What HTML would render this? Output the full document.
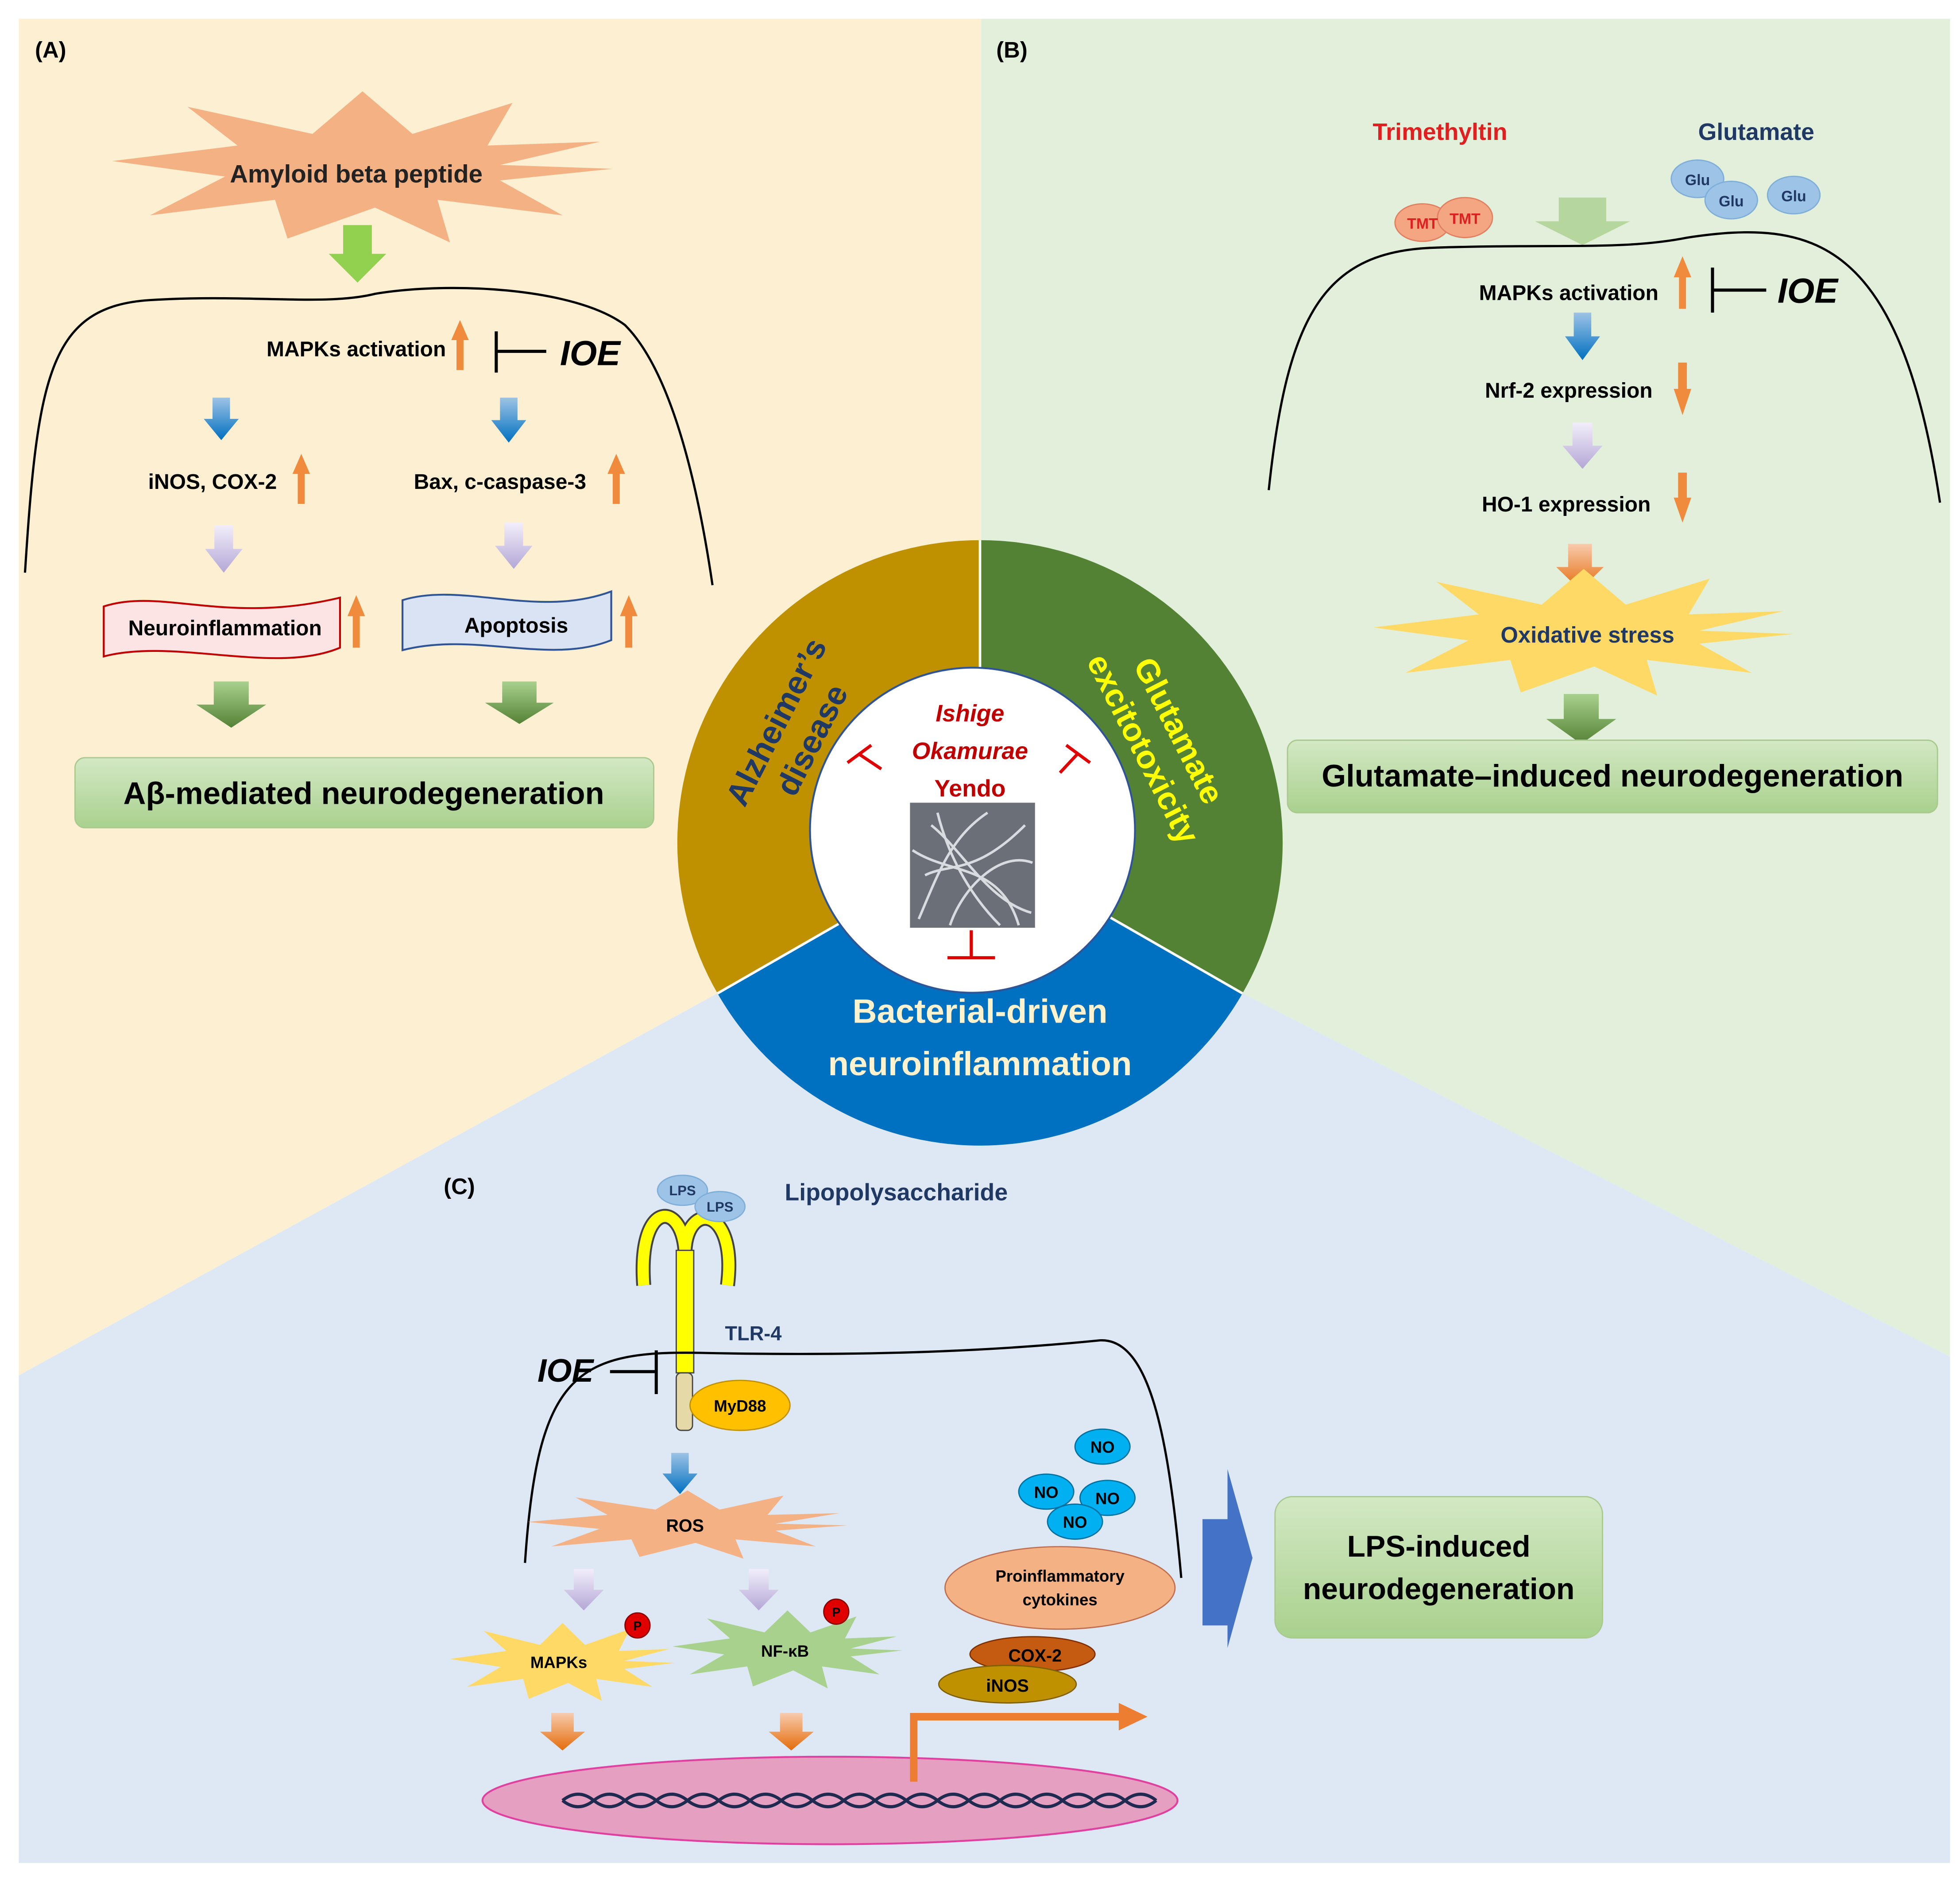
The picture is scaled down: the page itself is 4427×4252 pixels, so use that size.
<!DOCTYPE html>
<html><head><meta charset="utf-8"><style>
html,body{margin:0;padding:0;background:#fff}
svg{display:block}
text{font-family:"Liberation Sans",sans-serif;font-weight:bold}
</style></head><body>
<svg width="4427" height="4252" viewBox="0 0 1568 1506" xmlns="http://www.w3.org/2000/svg">
<defs>
<path id="da" d="M0.25,0 H0.75 V0.5 H1 L0.5,1 L0,0.5 H0.25 Z"/>
<path id="ua" d="M0.3,1 V0.4 H0 L0.5,0 L1,0.4 H0.7 V1 Z"/>
<path id="st" d="M1,0 L0.55,0.15 L0.8,0.6 L0.3,0.4 L0.35,0.95 L0.05,0.5 L-0.3,0.9 L-0.35,0.4 L-0.85,0.6 L-0.55,0.1 L-1,-0.1 L-0.5,-0.3 L-0.7,-0.8 L-0.2,-0.45 L0,-1 L0.2,-0.45 L0.6,-0.85 L0.5,-0.3 L0.95,-0.35 L0.55,-0.05 Z"/>
<linearGradient id="gb" x1="0" y1="0" x2="0" y2="1"><stop offset="0" stop-color="#d3e8c4"/><stop offset="1" stop-color="#a9d18e"/></linearGradient>
<linearGradient id="ga" x1="0" y1="0" x2="0" y2="1"><stop offset="0" stop-color="#a9d18e"/><stop offset="1" stop-color="#548235"/></linearGradient>
<linearGradient id="go" x1="0" y1="0" x2="0" y2="1"><stop offset="0" stop-color="#f8cbad"/><stop offset="1" stop-color="#e46c0a"/></linearGradient>
<linearGradient id="gbl" x1="0" y1="0" x2="0" y2="1"><stop offset="0" stop-color="#9dc3e6"/><stop offset="1" stop-color="#0070c0"/></linearGradient>
<linearGradient id="gl" x1="0" y1="0" x2="0" y2="1"><stop offset="0" stop-color="#f2eefa"/><stop offset="1" stop-color="#b4a7d6"/></linearGradient>
</defs>
<!-- backgrounds -->
<polygon points="15,15 785,15 785,675 573,795 15,1100" fill="#fdf0d2"/>
<polygon points="785,15 1560,15 1560,1085 995,795 785,675" fill="#e2efda"/>
<polygon points="15,1100 573,795 785,675 995,795 1560,1085 1560,1490 15,1490" fill="#dde8f4"/>

<!-- PANEL A -->
<text x="28" y="46" font-size="18">(A)</text>
<use href="#st" transform="translate(290,135) scale(200,62)" fill="#f4b183"/>
<text x="285" y="146" font-size="20" text-anchor="middle" fill="#222">Amyloid beta peptide</text>
<use href="#da" transform="translate(263,180) scale(46,46)" fill="#92d050"/>
<path d="M20,458 C30,300 40,245 120,240 C200,235 260,245 300,235 C360,225 460,230 500,260 C540,300 560,400 570,468" fill="none" stroke="#000" stroke-width="1.8"/>
<text x="285" y="285" font-size="17" text-anchor="middle">MAPKs activation</text>
<use href="#ua" transform="translate(361,256) scale(14,40)" fill="#f08a3c"/>
<path d="M397,265 V298 M397,281 H437" stroke="#000" stroke-width="2.5" fill="none"/>
<text x="448" y="292" font-size="28" font-style="italic">IOE</text>
<use href="#da" transform="translate(163,318) scale(28,34)" fill="url(#gbl)"/>
<use href="#da" transform="translate(393,318) scale(28,36)" fill="url(#gbl)"/>
<text x="170" y="391" font-size="17" text-anchor="middle">iNOS, COX-2</text>
<use href="#ua" transform="translate(234,363) scale(14,40)" fill="#f08a3c"/>
<text x="400" y="391" font-size="17" text-anchor="middle">Bax, c-caspase-3</text>
<use href="#ua" transform="translate(486,363) scale(14,40)" fill="#f08a3c"/>
<use href="#da" transform="translate(164,420) scale(30,38)" fill="url(#gl)"/>
<use href="#da" transform="translate(396,418) scale(30,37)" fill="url(#gl)"/>
<path d="M83,485 C130,470 180,500 272,478 V518 C220,540 140,510 83,525 Z" fill="#fde4e4" stroke="#c00000" stroke-width="1.5"/>
<text x="180" y="508" font-size="17" text-anchor="middle">Neuroinflammation</text>
<use href="#ua" transform="translate(278,476) scale(14,42)" fill="#f08a3c"/>
<path d="M322,480 C370,465 430,495 489,473 V512 C440,532 380,505 322,520 Z" fill="#dae3f3" stroke="#2f5597" stroke-width="1.5"/>
<text x="413" y="506" font-size="17" text-anchor="middle">Apoptosis</text>
<use href="#ua" transform="translate(496,476) scale(14,42)" fill="#f08a3c"/>
<use href="#da" transform="translate(157,545) scale(56,37)" fill="url(#ga)"/>
<use href="#da" transform="translate(388,545) scale(55,34)" fill="url(#ga)"/>
<rect x="60" y="606" width="463" height="56" rx="8" fill="url(#gb)" stroke="#a9c98e"/>
<text x="291" y="643" font-size="25" text-anchor="middle">Aβ-mediated neurodegeneration</text>

<!-- PANEL B -->
<text x="797" y="46" font-size="18">(B)</text>
<text x="1152" y="112" font-size="19" text-anchor="middle" fill="#e02020">Trimethyltin</text>
<text x="1405" y="112" font-size="19" text-anchor="middle" fill="#1f3864">Glutamate</text>
<ellipse cx="1138" cy="178" rx="22" ry="15" fill="#f4a582" stroke="#e08060"/>
<ellipse cx="1172" cy="174" rx="22" ry="16" fill="#f4a582" stroke="#e08060"/>
<text x="1138" y="183" font-size="12" font-weight="normal" text-anchor="middle" fill="#e02020">TMT</text>
<text x="1172" y="179" font-size="12" font-weight="normal" text-anchor="middle" fill="#e02020">TMT</text>
<ellipse cx="1358" cy="143" rx="21" ry="15" fill="#9dc3e6" stroke="#7faed9"/>
<ellipse cx="1385" cy="160" rx="21" ry="15" fill="#9dc3e6" stroke="#7faed9"/>
<ellipse cx="1435" cy="156" rx="21" ry="15" fill="#9dc3e6" stroke="#7faed9"/>
<text x="1358" y="148" font-size="12" font-weight="normal" text-anchor="middle" fill="#1f3864">Glu</text>
<text x="1385" y="165" font-size="12" font-weight="normal" text-anchor="middle" fill="#1f3864">Glu</text>
<text x="1435" y="161" font-size="12" font-weight="normal" text-anchor="middle" fill="#1f3864">Glu</text>
<use href="#da" transform="translate(1228,158) scale(76,38)" fill="#b5d69c"/>
<path d="M1015,392 C1030,250 1060,200 1150,198 C1250,195 1300,200 1350,190 C1450,175 1520,190 1552,402" fill="none" stroke="#000" stroke-width="1.8"/>
<text x="1255" y="240" font-size="17" text-anchor="middle">MAPKs activation</text>
<use href="#ua" transform="translate(1339,205) scale(14,42)" fill="#f08a3c"/>
<path d="M1370,214 V250 M1370,232 H1413" stroke="#000" stroke-width="2.5" fill="none"/>
<text x="1422" y="242" font-size="28" font-style="italic">IOE</text>
<use href="#da" transform="translate(1252,250) scale(28,38)" fill="url(#gbl)"/>
<text x="1255" y="318" font-size="17" text-anchor="middle">Nrf-2 expression</text>
<use href="#da" transform="translate(1339,290) scale(14,42)" fill="#f08a3c"/>
<use href="#da" transform="translate(1250,338) scale(32,37)" fill="url(#gl)"/>
<text x="1253" y="409" font-size="17" text-anchor="middle">HO-1 expression</text>
<use href="#da" transform="translate(1339,378) scale(14,40)" fill="#f08a3c"/>
<use href="#da" transform="translate(1245,435) scale(38,37)" fill="url(#go)"/>
<use href="#st" transform="translate(1267,507) scale(168,52)" fill="#ffd966"/>
<text x="1270" y="514" font-size="18" text-anchor="middle" fill="#1f3864">Oxidative stress</text>
<use href="#da" transform="translate(1237,555) scale(56,40)" fill="url(#ga)"/>
<rect x="1030" y="592" width="520" height="58" rx="8" fill="url(#gb)" stroke="#a9c98e"/>
<text x="1290" y="629" font-size="25" text-anchor="middle">Glutamate–induced neurodegeneration</text>

<!-- PANEL C -->
<text x="355" y="955" font-size="18">(C)</text>
<path d="M515,1028 C510,960 545,960 548,1000 C550,960 590,965 582,1028" fill="none" stroke="#444" stroke-width="12"/>
<path d="M515,1028 C510,960 545,960 548,1000 C550,960 590,965 582,1028" fill="none" stroke="#ffff00" stroke-width="9"/>
<rect x="541" y="1000" width="14" height="98" fill="#ffff00" stroke="#444"/>
<rect x="541" y="1098" width="13" height="46" rx="4" fill="#e6d9a8" stroke="#444"/>
<ellipse cx="546" cy="952" rx="20" ry="12" fill="#9dc3e6" stroke="#7faed9"/>
<ellipse cx="576" cy="965" rx="20" ry="12" fill="#9dc3e6" stroke="#7faed9"/>
<text x="546" y="956" font-size="11" font-weight="normal" text-anchor="middle" fill="#1f3864">LPS</text>
<text x="576" y="969" font-size="11" font-weight="normal" text-anchor="middle" fill="#1f3864">LPS</text>
<text x="717" y="960" font-size="19" text-anchor="middle" fill="#1f3864">Lipopolysaccharide</text>
<text x="580" y="1072" font-size="16" fill="#1f3864">TLR-4</text>
<path d="M420,1250 C430,1100 460,1080 560,1082 C700,1085 800,1080 880,1072 C920,1070 935,1150 945,1262" fill="none" stroke="#000" stroke-width="1.8"/>
<text x="430" y="1105" font-size="26" font-style="italic">IOE</text>
<path d="M488,1097 H525 M525,1080 V1115" stroke="#000" stroke-width="2.5" fill="none"/>
<ellipse cx="592" cy="1124" rx="40" ry="20" fill="#ffc000" stroke="#c09000"/>
<text x="592" y="1129" font-size="13" text-anchor="middle">MyD88</text>
<use href="#da" transform="translate(530,1162) scale(28,33)" fill="url(#gbl)"/>
<use href="#st" transform="translate(550,1220) scale(128,28)" fill="#f4b183"/>
<text x="548" y="1225" font-size="14" text-anchor="middle">ROS</text>
<use href="#da" transform="translate(451,1255) scale(32,33)" fill="url(#gl)"/>
<use href="#da" transform="translate(591,1255) scale(32,33)" fill="url(#gl)"/>
<use href="#st" transform="translate(450,1330) scale(90,32)" fill="#ffd966"/>
<text x="447" y="1334" font-size="13" text-anchor="middle">MAPKs</text>
<circle cx="510" cy="1300" r="10" fill="#e00000" stroke="#800"/>
<text x="510" y="1304" font-size="10" text-anchor="middle">P</text>
<use href="#st" transform="translate(630,1320) scale(92,32)" fill="#a9d18e"/>
<text x="628" y="1325" font-size="13" text-anchor="middle">NF-κB</text>
<circle cx="669" cy="1289" r="10" fill="#e00000" stroke="#800"/>
<text x="669" y="1293" font-size="10" text-anchor="middle">P</text>
<use href="#da" transform="translate(432,1370) scale(36,30)" fill="url(#go)"/>
<use href="#da" transform="translate(615,1370) scale(36,30)" fill="url(#go)"/>
<ellipse cx="664" cy="1440" rx="278" ry="35" fill="#e59fc0" stroke="#e040a0" stroke-width="1.5"/>
<path d="M450,1440 q12.5,-10 25,0 t25,0 t25,0 t25,0 t25,0 t25,0 t25,0 t25,0 t25,0 t25,0 t25,0 t25,0 t25,0 t25,0 t25,0 t25,0 t25,0 t25,0 t25,0" fill="none" stroke="#1f2a50" stroke-width="2.5"/>
<path d="M450,1440 q12.5,10 25,0 t25,0 t25,0 t25,0 t25,0 t25,0 t25,0 t25,0 t25,0 t25,0 t25,0 t25,0 t25,0 t25,0 t25,0 t25,0 t25,0 t25,0 t25,0" fill="none" stroke="#1f2a50" stroke-width="2.5"/>
<path d="M731,1425 V1373 H897" fill="none" stroke="#ed7d31" stroke-width="6"/>
<polygon points="895,1362 918,1373 895,1384" fill="#ed7d31"/>
<ellipse cx="882" cy="1157" rx="22" ry="14" fill="#00b0f0" stroke="#0070a0"/>
<ellipse cx="837" cy="1193" rx="22" ry="14" fill="#00b0f0" stroke="#0070a0"/>
<ellipse cx="886" cy="1198" rx="22" ry="14" fill="#00b0f0" stroke="#0070a0"/>
<ellipse cx="860" cy="1217" rx="22" ry="14" fill="#00b0f0" stroke="#0070a0"/>
<text x="882" y="1162" font-size="13" font-weight="normal" text-anchor="middle">NO</text>
<text x="837" y="1198" font-size="13" font-weight="normal" text-anchor="middle">NO</text>
<text x="886" y="1203" font-size="13" font-weight="normal" text-anchor="middle">NO</text>
<text x="860" y="1222" font-size="13" font-weight="normal" text-anchor="middle">NO</text>
<ellipse cx="848" cy="1270" rx="92" ry="33" fill="#f4b183" stroke="#c07050"/>
<text x="848" y="1265" font-size="13" text-anchor="middle">Proinflammatory</text>
<text x="848" y="1284" font-size="13" text-anchor="middle">cytokines</text>
<ellipse cx="826" cy="1323" rx="50" ry="14" fill="#c55a11" stroke="#803000"/>
<text x="828" y="1329" font-size="14" text-anchor="middle">COX-2</text>
<ellipse cx="806" cy="1347" rx="55" ry="15" fill="#bf9000" stroke="#806000"/>
<text x="806" y="1353" font-size="14" text-anchor="middle">iNOS</text>
<polygon points="962,1215 982,1215 982,1175 1002,1246 982,1318 982,1300 962,1300" fill="#4472c4"/>
<rect x="1020" y="1197" width="262" height="113" rx="14" fill="url(#gb)" stroke="#a9c98e"/>
<text x="1151" y="1245" font-size="24" text-anchor="middle">LPS-induced</text>
<text x="1151" y="1279" font-size="24" text-anchor="middle">neurodegeneration</text>

<!-- CENTER -->
<path d="M784,674 L784,432 A242,242 0 0 0 574,794.5 Z" fill="#bf9000"/>
<path d="M784,674 L784,432 A242,242 0 0 1 994,794.5 Z" fill="#548235"/>
<path d="M784,674 L574,794.5 A242,242 0 0 0 994,794.5 Z" fill="#0070c0"/>
<path d="M784,674 L784,432 M784,674 L574,794.5 M784,674 L994,794.5" stroke="#fff" stroke-width="2"/>
<circle cx="778" cy="664" r="130" fill="#fff" stroke="#2f5597" stroke-width="1.5"/>
<g transform="translate(636,585) rotate(-63)" fill="#1f3864" font-size="26" text-anchor="middle">
<text x="0" y="-8">Alzheimer’s</text><text x="0" y="24">disease</text></g>
<g transform="translate(928,592) rotate(63)" fill="#ffff00" font-size="26" text-anchor="middle">
<text x="0" y="-8">Glutamate</text><text x="0" y="24">excitotoxicity</text></g>
<text x="784" y="818" font-size="27" text-anchor="middle" fill="#fff2cc">Bacterial-driven</text>
<text x="784" y="860" font-size="27" text-anchor="middle" fill="#fff2cc">neuroinflammation</text>
<text x="776" y="577" font-size="19" font-style="italic" text-anchor="middle" fill="#c00000">Ishige</text>
<text x="776" y="607" font-size="19" font-style="italic" text-anchor="middle" fill="#c00000">Okamurae</text>
<text x="776" y="637" font-size="19" text-anchor="middle" fill="#c00000">Yendo</text>
<rect x="728" y="642" width="100" height="100" fill="#6b7078"/>
<g stroke="#d8dce0" stroke-width="2" fill="none">
<path d="M735,735 C750,700 760,670 790,650 M740,700 C760,690 780,700 820,660 M745,660 C770,680 790,720 825,730 M730,680 C760,700 800,690 815,740 M760,740 C770,710 800,680 826,690 M750,650 C760,690 780,720 800,740"/>
</g>
<g stroke="#e00000" stroke-width="2.5" fill="none">
<path d="M678,610 L697,596 M687,603 L705,615"/>
<path d="M853,596 L872,610 M862,603 L848,618"/>
<path d="M758,766 H796 M777,766 V744"/>
</g>
</svg>
</body></html>
